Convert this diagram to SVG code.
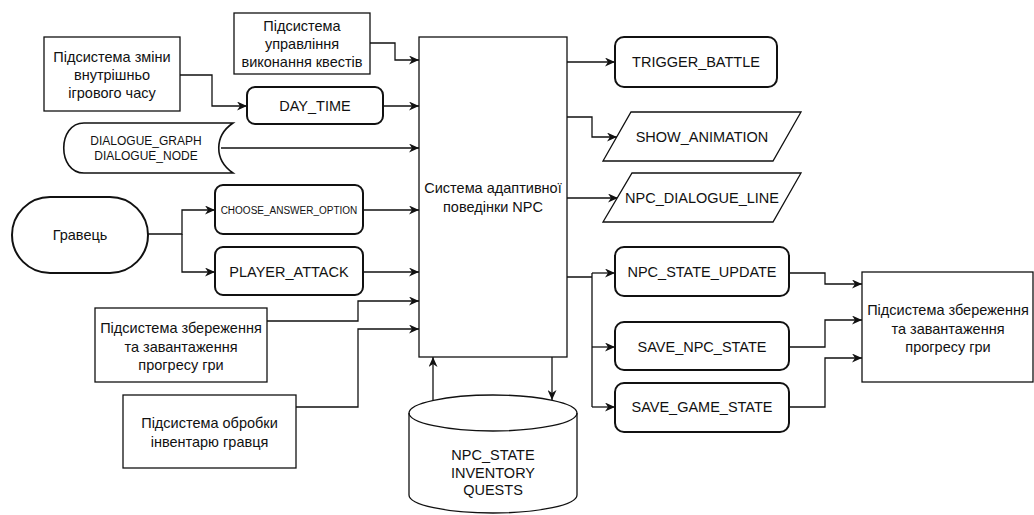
<svg xmlns="http://www.w3.org/2000/svg" width="1034" height="515" viewBox="0 0 1034 515">
<defs>
<style>
.box{fill:#fff;stroke:#111;stroke-width:1.3}
.rnd{fill:#fff;stroke:#111;stroke-width:2}
.t{font-family:"Liberation Sans",Arial,sans-serif;font-size:14.5px;fill:#111;text-anchor:middle;dominant-baseline:central}
.s{font-size:12px}
.xs{font-size:10px}
.c{fill:none;stroke:#111;stroke-width:1.3}
.a{marker-end:url(#arr)}
</style>
<marker id="arr" markerUnits="userSpaceOnUse" markerWidth="10" markerHeight="9" refX="10" refY="4.5" orient="auto">
<path d="M0,0 L10,4.5 L0,9 L3,4.5 Z" fill="#111"/>
</marker>
</defs>
<rect width="1034" height="515" fill="#fff"/>

<g id="connectors">
<path class="c a" d="M370,43 H395 V60 H419"/>
<path class="c a" d="M180,75 H212 V106 H247"/>
<path class="c a" d="M383,106 H419"/>
<path class="c a" d="M221,148 H419"/>
<path class="c a" d="M148,234 H182 V210 H215"/>
<path class="c a" d="M182,234 V272 H215"/>
<path class="c a" d="M363,210 H419"/>
<path class="c a" d="M363,272 H419"/>
<path class="c a" d="M267,321 H358 V301 H419"/>
<path class="c a" d="M296,407 H358 V329 H419"/>
<path class="c a" d="M433,400 V357"/>
<path class="c a" d="M552,357 V400"/>
<path class="c a" d="M567,62 H615"/>
<path class="c a" d="M567,117 H592 V137 H617"/>
<path class="c a" d="M567,198 H618"/>
<path class="c" d="M567,277 H592 M592,273 V407"/>
<path class="c a" d="M592,273 H615"/>
<path class="c a" d="M592,347 H615"/>
<path class="c a" d="M592,407 H615"/>
<path class="c a" d="M789,273 H825 V284 H862"/>
<path class="c a" d="M789,347 H825 V320 H862"/>
<path class="c a" d="M789,407 H825 V358 H862"/>
</g>

<g id="quest">
<rect class="box" x="234" y="13" width="136" height="61"/>
<text class="t" x="302" y="26">Підсистема</text>
<text class="t" x="302" y="44">управління</text>
<text class="t" x="302" y="62">виконання квестів</text>
</g>
<g id="time">
<rect class="box" x="44" y="37" width="136" height="74"/>
<text class="t" x="112" y="57">Підсистема зміни</text>
<text class="t" x="112" y="75">внутрішньо</text>
<text class="t" x="112" y="93">ігрового часу</text>
</g>
<g id="daytime">
<rect class="rnd" x="247" y="87" width="136" height="37" rx="8"/>
<text class="t" x="315" y="106">DAY_TIME</text>
</g>
<g id="dialogue">
<path class="rnd" style="stroke-width:1.6" d="M84,123 H233 C214,136 214,160 233,173 H84 C57,173 57,123 84,123 Z"/>
<text class="t s" x="146" y="141">DIALOGUE_GRAPH</text>
<text class="t s" x="146" y="156">DIALOGUE_NODE</text>
</g>
<g id="player">
<rect class="rnd" x="12" y="197" width="136" height="76" rx="38"/>
<text class="t" x="80" y="235">Гравець</text>
</g>
<g id="choose">
<rect class="rnd" x="215" y="185" width="148" height="49" rx="8"/>
<text class="t xs" x="289" y="210">CHOOSE_ANSWER_OPTION</text>
</g>
<g id="attack">
<rect class="rnd" x="215" y="247" width="148" height="48" rx="8"/>
<text class="t" x="289" y="272">PLAYER_ATTACK</text>
</g>
<g id="save-left">
<rect class="box" x="95" y="308" width="172" height="74"/>
<text class="t" x="181" y="328">Підсистема збереження</text>
<text class="t" x="181" y="347">та завантаження</text>
<text class="t" x="181" y="365">прогресу гри</text>
</g>
<g id="inventory">
<rect class="box" x="123" y="395" width="173" height="73"/>
<text class="t" x="209.5" y="423">Підсистема обробки</text>
<text class="t" x="209.5" y="442">інвентарю гравця</text>
</g>
<g id="npc-system">
<rect class="box" x="419" y="37" width="148" height="320"/>
<text class="t" x="493" y="188">Система адаптивної</text>
<text class="t" x="493" y="207">поведінки NPC</text>
</g>
<g id="database">
<path class="box" d="M409,413 A84,18 0 0 1 577,413 V495 A84,18 0 0 1 409,495 Z"/>
<path class="c" d="M409,413 A84,18 0 0 0 577,413"/>
<text class="t" x="493" y="455">NPC_STATE</text>
<text class="t" x="493" y="473">INVENTORY</text>
<text class="t" x="493" y="490">QUESTS</text>
</g>
<g id="trigger">
<rect class="rnd" x="615" y="37" width="162" height="50" rx="9"/>
<text class="t" x="696" y="62">TRIGGER_BATTLE</text>
</g>
<g id="animation">
<polygon class="box" points="631,112 801,112 773,161 603,161"/>
<text class="t" x="702" y="137">SHOW_ANIMATION</text>
</g>
<g id="dialogue-line">
<polygon class="box" points="632,173 801,173 773,222 603,222"/>
<text class="t" x="702" y="198">NPC_DIALOGUE_LINE</text>
</g>
<g id="state-update">
<rect class="rnd" x="615" y="247" width="174" height="49" rx="9"/>
<text class="t" x="702" y="272">NPC_STATE_UPDATE</text>
</g>
<g id="save-npc">
<rect class="rnd" x="615" y="322" width="174" height="48" rx="9"/>
<text class="t" x="702" y="347">SAVE_NPC_STATE</text>
</g>
<g id="save-game">
<rect class="rnd" x="615" y="383" width="174" height="49" rx="9"/>
<text class="t" x="702" y="407">SAVE_GAME_STATE</text>
</g>
<g id="save-right">
<rect class="box" x="862" y="272" width="171" height="110"/>
<text class="t" x="948" y="310">Підсистема збереження</text>
<text class="t" x="948" y="329">та завантаження</text>
<text class="t" x="948" y="347">прогресу гри</text>
</g>
</svg>
